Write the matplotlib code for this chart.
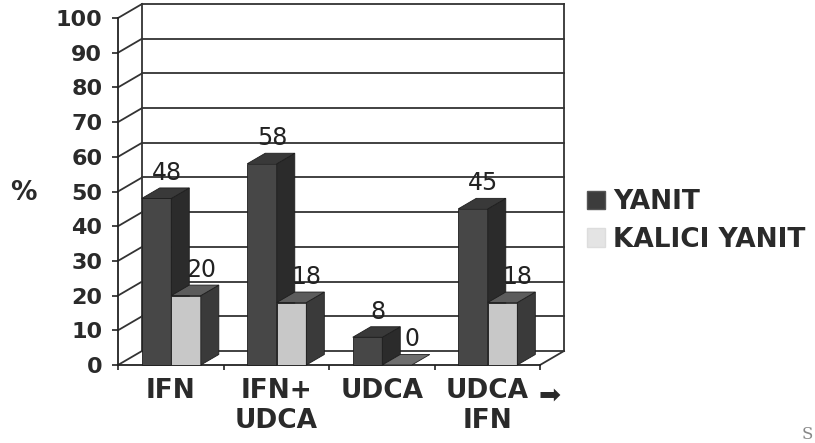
import numpy as np
import matplotlib.pyplot as plt
from matplotlib.patches import Polygon, Patch

categories = ['IFN', 'IFN+\nUDCA', 'UDCA', 'UDCA\nIFN']
yanit = [48, 58, 8, 45]
kalici = [20, 18, 0, 18]
series_names = ['YANIT', 'KALICI YANIT']
yticks = list(range(0, 101, 10))

W, H = 815, 443
fig = plt.figure(figsize=(W / 100, H / 100), dpi=100, facecolor='white')
ax = fig.add_axes([118 / W, 1 - 365 / H, 422 / W, 347 / H])
ax.set_xlim(0, 4)
ax.set_ylim(0, 100)
ax.patch.set_visible(False)

# pixel -> data helpers for the fake 3d depth
px_x = 422 / 4
px_y = 347 / 100
DX, DY = 24 / px_x, 14 / px_y       # floor / wall depth
BDX, BDY = 18 / px_x, 10.5 / px_y   # bar depth
grid_c = '#333333'

# side wall diagonals + back wall gridlines
for v in yticks:
    ax.plot([0, DX], [v, v + DY], color=grid_c, lw=1.3, clip_on=False, zorder=1)
    ax.plot([DX, 4 + DX], [v + DY, v + DY], color=grid_c, lw=1.3, clip_on=False, zorder=1)
ax.plot([DX, DX], [DY, 100 + DY], color=grid_c, lw=1.3, clip_on=False, zorder=1)
ax.plot([4 + DX, 4 + DX], [DY, 100 + DY], color=grid_c, lw=1.3, clip_on=False, zorder=1)
ax.plot([4, 4 + DX], [0, DY], color=grid_c, lw=1.3, clip_on=False, zorder=1)


def bar3d(x0, w, h, front, side, top, z):
    kw = dict(ec='#1e1e1e', lw=0.6, clip_on=False, zorder=z)
    if h > 0:
        ax.add_patch(Polygon([(x0, 0), (x0 + w, 0), (x0 + w, h), (x0, h)], fc=front, **kw))
        ax.add_patch(Polygon([(x0 + w, 0), (x0 + w + BDX, BDY), (x0 + w + BDX, h + BDY), (x0 + w, h)],
                             fc=side, **kw))
    ax.add_patch(Polygon([(x0, h), (x0 + w, h), (x0 + w + BDX, h + BDY), (x0 + BDX, h + BDY)],
                         fc=top if h > 0 else '#6e6e6e', **kw))


bw = 0.28
styles = [
    dict(front='#474747', side='#2b2b2b', top='#393939', off=0.225, ldx=10),
    dict(front='#c8c8c8', side='#3a3a3a', top='#5c5c5c', off=0.225 + bw, ldx=15),
]
z = 3
for i in range(len(categories)):
    for vals, st in zip([yanit, kalici], styles):
        x0 = i + st['off']
        v = vals[i]
        bar3d(x0, bw, v, st['front'], st['side'], st['top'], z)
        z += 1
        ax.text(x0 + bw / 2 + st['ldx'] / px_x, v + BDY + 15 / px_y, str(v),
                ha='center', va='center', fontsize=17, color='#222222', zorder=2)

# axes, ticks
for s in ['top', 'right']:
    ax.spines[s].set_visible(False)
for s in ['left', 'bottom']:
    ax.spines[s].set_color('#222222')
    ax.spines[s].set_linewidth(1.3)

ax.set_yticks(yticks, labels=[str(t) for t in yticks], fontweight='bold', fontsize=16, color='#2a2a2a')
ax.tick_params(axis='y', length=4.3, width=1.2, pad=7, color='#222222')
ax.set_xticks(range(5), labels=[])
ax.tick_params(axis='x', which='major', length=3.6, width=1.2, color='#222222')
ax.set_xticks(np.arange(len(categories)) + 0.5, labels=categories, minor=True,
              fontweight='bold', fontsize=19, color='#2a2a2a')
ax.tick_params(axis='x', which='minor', length=0, pad=9)

ax.text(4 + 10 / px_x, -31 / px_y, '\u27a1', ha='center', va='center', fontsize=19,
        color='#2a2a2a', clip_on=False)

fig.text(10 / W, 1 - 193 / H, '%', ha='left', va='center', fontsize=19, fontweight='bold', color='#2a2a2a')

handles = [Patch(fc='#3c3c3c', ec='#555555'), Patch(fc='#e4e4e4', ec='#dddddd')]
fig.legend(handles, series_names, loc='center left', bbox_to_anchor=(587 / W, 1 - 221 / H),
           frameon=False, prop={'weight': 'bold', 'size': 19}, labelcolor='#2a2a2a',
           handlelength=0.7, handleheight=0.7, handletextpad=0.3,
           labelspacing=0.42, borderpad=0, borderaxespad=0)

fig.text(802 / W, 4 / H, 'S', family='DejaVu Serif', fontsize=12, color='#888888')

fig.savefig('out.png', dpi=100, facecolor='white')
